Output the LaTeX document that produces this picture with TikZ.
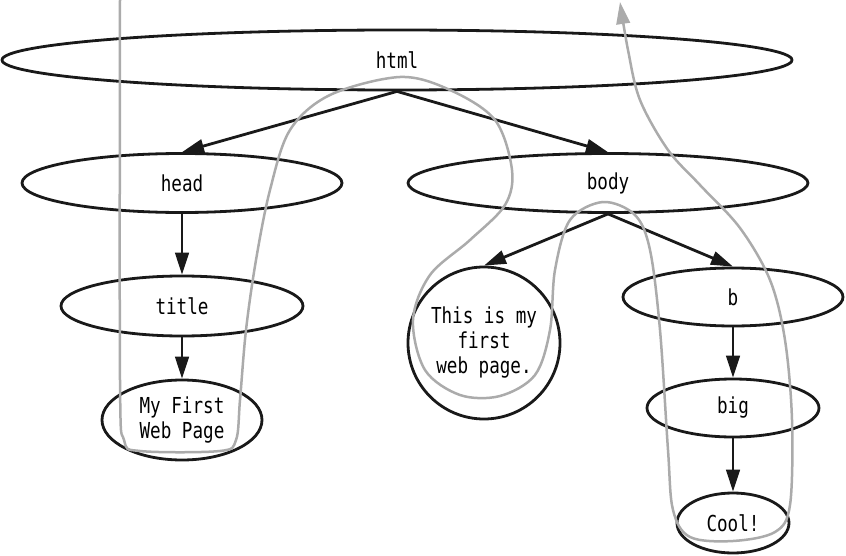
\documentclass[tikz,border=0pt]{standalone}
\usepackage{fontspec}
\newfontfamily\codefont[FakeStretch=0.8]{DejaVu Sans Mono}
\newcommand\dfont{\codefont\fontsize{11}{12.5}\selectfont}
\usetikzlibrary{arrows.meta,shapes.geometric}

\begin{document}
\begin{tikzpicture}
        [x=0.5pt, y=-0.5pt,
        >={Triangle[length=11pt,width=6.8pt]},
        estyle/.style={ellipse, draw=black!90, line width=1.4pt, inner sep=0pt, font=\dfont, align=center},
        cstyle/.style={circle, draw=black!90, line width=1.4pt, inner sep=0pt, minimum size=76pt, font=\dfont, align=center},
        dstyle/.style={->, line width=1.4pt, black!90},
        gstyle/.style={->, line width=1.25pt, black!33}]
        \useasboundingbox (0,0) rectangle (846,556);

        \node[estyle, minimum width=395pt, minimum height=30pt] (html)    at (397,60)  {html};
        \node[estyle, minimum width=160pt, minimum height=29.5pt] (head)  at (182,183) {head};
        \node[estyle, minimum width=200pt, minimum height=29.5pt] (body)  at (608,183) {body};
        \node[estyle, minimum width=121pt, minimum height=30pt] (title)   at (182,306) {title};
        \node[estyle, minimum width=80pt, minimum height=40pt] (mytitle)  at (182,420) {My First\\Web Page};
        \node[cstyle] (mytext) at (484,343) {This is my\\first\\web page.};
        \node[estyle, minimum width=110pt, minimum height=29pt] (b)       at (733,297) {b};
        \node[estyle, minimum width=86pt, minimum height=29pt] (big)      at (733,408) {big};
        \node[estyle, minimum width=56pt, minimum height=30pt] (cool)     at (733,523) {Cool!};

        \draw[dstyle] (html.south) -- (head.north);
        \draw[dstyle] (html.south) -- (body.north);
        \draw[dstyle] (head.south) -- (title.north);
        \draw[dstyle] (title.south) -- (mytitle.north);
        \draw[dstyle] (body.south) -- (mytext.north);
        \draw[dstyle] (body.south) -- (b.north);
        \draw[dstyle] (b.south) -- (big.north);
        \draw[dstyle] (big.south) -- (cool.north);

        % walk through the tree
        \draw[gstyle] plot[smooth, tension=0.55] coordinates {
            (120,0) (120,380) (124,440) (140,451) (220,451) (236,440) (240,400)
            (246,330) (256,260) (270,190) (290,130) (330,95) (400,77) (450,90)
            (495,120) (512,170) (505,205) (470,240) (430,275) (413,320) (425,370)
            (460,395) (500,396) (535,375) (550,330) (555,270) (570,220) (603,202)
            (635,215) (650,250) (660,330) (668,450) (673,510) (690,537) (733,541)
            (775,532) (790,505) (792,420) (785,340) (770,280) (740,228) (700,185)
            (668,150) (640,100) (628,50) (620,2)};
    \end{tikzpicture}
\end{document}
